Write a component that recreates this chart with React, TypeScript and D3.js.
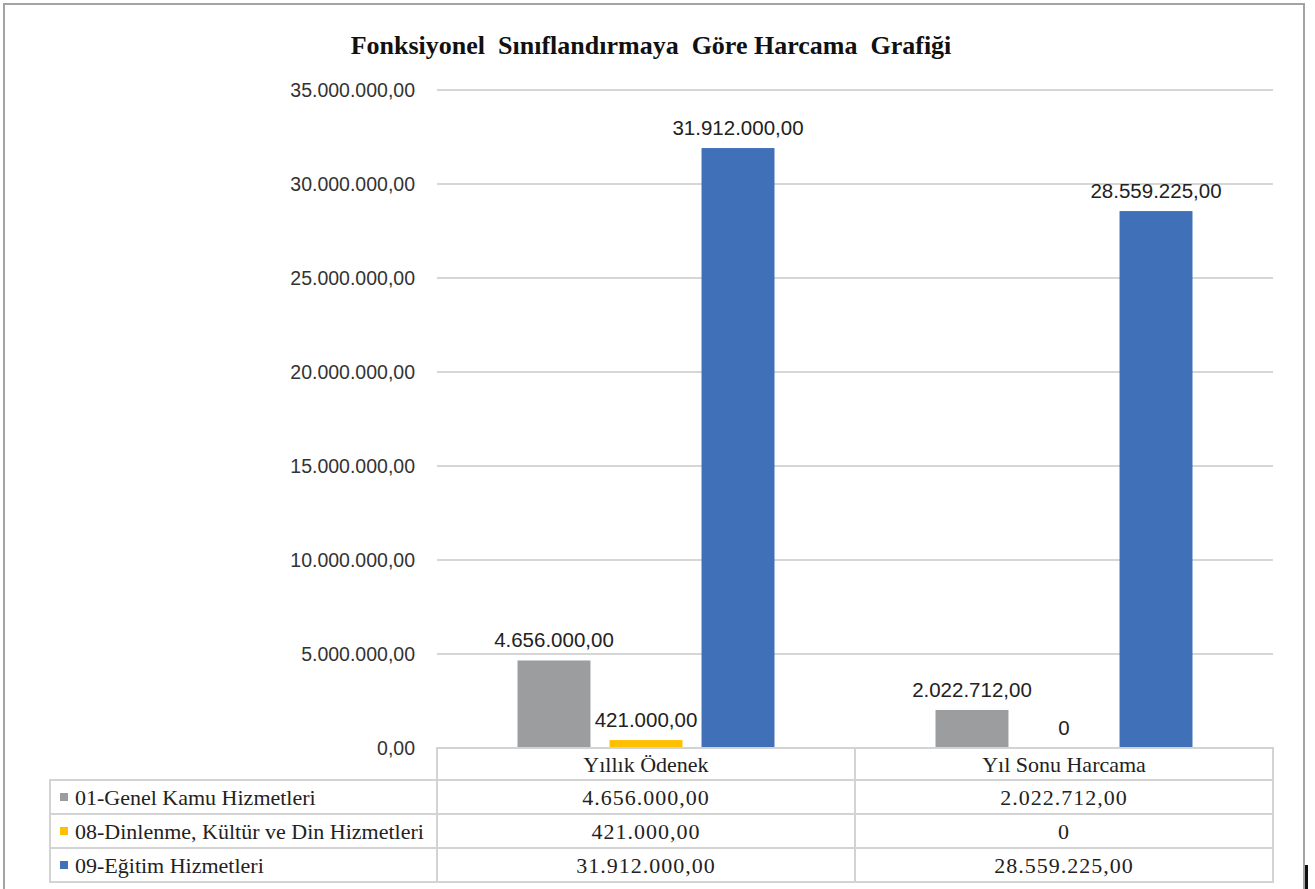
import { useEffect, useRef } from "react";
import * as d3 from "d3";

const categories = ["Yıllık Ödenek", "Yıl Sonu Harcama"];
const seriesNames = [
  "01-Genel Kamu Hizmetleri",
  "08-Dinlenme, Kültür ve Din Hizmetleri",
  "09-Eğitim Hizmetleri",
];
const seriesColors = ["#9c9d9e", "#ffc000", "#3f70b8"];
const genelKamu = [4656000, 2022712];
const dinlenme = [421000, 0];
const egitim = [31912000, 28559225];
const yTicks = [0, 5000000, 10000000, 15000000, 20000000, 25000000, 30000000, 35000000];

const title = "Fonksiyonel  Sınıflandırmaya  Göre Harcama  Grafiği";

export default function App() {
  const ref = useRef<SVGSVGElement>(null);
  const width = 1315;
  const height = 889;

  useEffect(() => {
    if (!ref.current) return;
    const svg = d3.select(ref.current);
    svg.selectAll("*").remove();

    const values = [genelKamu, dinlenme, egitim];
    const tr = d3.formatLocale({
      decimal: ",",
      thousands: ".",
      grouping: [3],
      currency: ["", ""],
    });
    const fmt = tr.format(",.2f");
    const label = (v: number) => (v === 0 ? "0" : fmt(v));

    const plotLeft = 437;
    const plotRight = 1273;
    const plotTop = 90;
    const plotBottom = 748;

    const x = d3.scaleBand<string>().domain(categories).range([plotLeft, plotRight]);
    const xs = d3
      .scaleBand<string>()
      .domain(seriesNames)
      .range([0, x.bandwidth()])
      .paddingInner(0.207)
      .paddingOuter(0.875);
    const y = d3.scaleLinear().domain([0, 35000000]).range([plotBottom, plotTop]);

    // outer frame
    svg
      .append("path")
      .attr("d", `M4,${height} V4 H1304 V${height}`)
      .attr("fill", "none")
      .attr("stroke", "#a3a3a3")
      .attr("stroke-width", 2);
    svg
      .append("line")
      .attr("x1", 1306.5)
      .attr("x2", 1306.5)
      .attr("y1", 865)
      .attr("y2", height)
      .attr("stroke", "#111")
      .attr("stroke-width", 3);

    // title
    svg
      .append("text")
      .attr("x", 651)
      .attr("y", 54)
      .attr("text-anchor", "middle")
      .attr("font-family", "'Liberation Serif', serif")
      .attr("font-weight", "bold")
      .attr("font-size", 26)
      .attr("fill", "#111")
      .style("white-space", "pre")
      .text(title);

    // gridlines + y labels
    yTicks.forEach((t) => {
      if (t > 0) {
        svg
          .append("line")
          .attr("x1", plotLeft)
          .attr("x2", plotRight)
          .attr("y1", y(t))
          .attr("y2", y(t))
          .attr("stroke", "#d6d6d6")
          .attr("stroke-width", 2);
      }
      svg
        .append("text")
        .attr("x", 415)
        .attr("y", y(t) + 7)
        .attr("text-anchor", "end")
        .attr("font-family", "'Liberation Sans', sans-serif")
        .attr("font-size", 19.5)
        .attr("fill", "#333")
        .text(fmt(t));
    });

    // bars + data labels
    seriesNames.forEach((s, si) => {
      categories.forEach((c, ci) => {
        const v = values[si][ci];
        const bx = x(c)! + xs(s)!;
        svg
          .append("rect")
          .attr("x", bx)
          .attr("y", y(v))
          .attr("width", xs.bandwidth())
          .attr("height", plotBottom - y(v))
          .attr("fill", seriesColors[si]);
        svg
          .append("text")
          .attr("x", bx + xs.bandwidth() / 2)
          .attr("y", y(v) - 13)
          .attr("text-anchor", "middle")
          .attr("font-family", "'Liberation Sans', sans-serif")
          .attr("font-size", 20.5)
          .attr("fill", "#222")
          .text(label(v));
      });
    });

    // data table
    const tableLeft = 50;
    const headerTop = 748;
    const rowTop = 780;
    const rowH = 34;
    const border = "#d3d3d3";
    const g = svg.append("g");

    g.append("rect")
      .attr("x", plotLeft)
      .attr("y", headerTop)
      .attr("width", plotRight - plotLeft)
      .attr("height", rowTop - headerTop)
      .attr("fill", "none")
      .attr("stroke", border)
      .attr("stroke-width", 2);
    g.append("rect")
      .attr("x", tableLeft)
      .attr("y", rowTop)
      .attr("width", plotRight - tableLeft)
      .attr("height", rowH * seriesNames.length)
      .attr("fill", "none")
      .attr("stroke", border)
      .attr("stroke-width", 2);
    seriesNames.forEach((_, i) => {
      if (i > 0) {
        g.append("line")
          .attr("x1", tableLeft)
          .attr("x2", plotRight)
          .attr("y1", rowTop + i * rowH)
          .attr("y2", rowTop + i * rowH)
          .attr("stroke", border)
          .attr("stroke-width", 2);
      }
    });
    [plotLeft, x(categories[1])!].forEach((cx) => {
      g.append("line")
        .attr("x1", cx)
        .attr("x2", cx)
        .attr("y1", cx === plotLeft ? rowTop : headerTop)
        .attr("y2", rowTop + rowH * seriesNames.length)
        .attr("stroke", border)
        .attr("stroke-width", 2);
    });

    const serif = "'Liberation Serif', serif";
    categories.forEach((c) => {
      g.append("text")
        .attr("x", x(c)! + x.bandwidth() / 2)
        .attr("y", headerTop + 24)
        .attr("text-anchor", "middle")
        .attr("font-family", serif)
        .attr("font-size", 22)
        .attr("fill", "#222")
        .text(c);
    });
    seriesNames.forEach((s, si) => {
      const cy = rowTop + si * rowH + rowH / 2;
      g.append("rect")
        .attr("x", 60)
        .attr("y", cy - 4)
        .attr("width", 8)
        .attr("height", 8)
        .attr("fill", seriesColors[si]);
      g.append("text")
        .attr("x", 75)
        .attr("y", cy + 8)
        .attr("font-family", serif)
        .attr("font-size", 22)
        .attr("fill", "#222")
        .text(s);
      categories.forEach((c, ci) => {
        g.append("text")
          .attr("x", x(c)! + x.bandwidth() / 2)
          .attr("y", cy + 8)
          .attr("text-anchor", "middle")
          .attr("font-family", serif)
          .attr("font-size", 22)
          .attr("letter-spacing", 1)
          .attr("fill", "#222")
          .text(label(values[si][ci]));
      });
    });
  }, []);

  return (
    <svg
      ref={ref}
      width={width}
      height={height}
      style={{ position: "absolute", left: 0, top: 0, background: "#fff" }}
    />
  );
}
